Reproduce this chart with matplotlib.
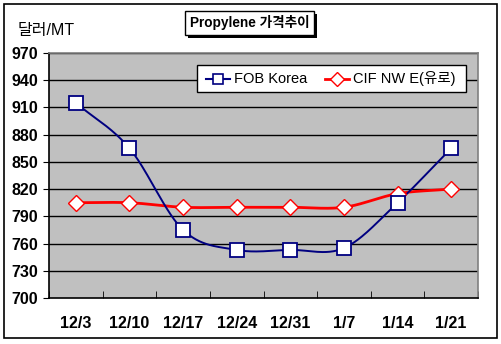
import numpy as np
import matplotlib
matplotlib.use("Agg")
import matplotlib.pyplot as plt
from matplotlib.patches import Rectangle

plt.rcParams['font.family'] = ['Liberation Sans', 'Noto Sans CJK KR', 'DejaVu Sans']

categories = ["12/3", "12/10", "12/17", "12/24", "12/31", "1/7", "1/14", "1/21"]
fob_korea = [915, 865, 775, 753, 753, 755, 805, 865]
cif_nwe = [805, 805, 800, 800, 800, 800, 815, 820]
series_names = ["FOB Korea", "CIF NW E(유로)"]
y_ticks = [700, 730, 760, 790, 820, 850, 880, 910, 940, 970]
title = "Propylene 가격추이"
y_unit = "달러/MT"


def smooth(xs, ys, n=30):
    """Catmull-Rom curve through the points, like a smoothed line chart."""
    xs = np.asarray(xs, float)
    ys = np.asarray(ys, float)
    px = np.concatenate([[2 * xs[0] - xs[1]], xs, [2 * xs[-1] - xs[-2]]])
    py = np.concatenate([[2 * ys[0] - ys[1]], ys, [2 * ys[-1] - ys[-2]]])
    ox, oy = [], []
    t = np.linspace(0, 1, n, endpoint=False)
    for i in range(1, len(px) - 2):
        for p, out in ((px, ox), (py, oy)):
            p0, p1, p2, p3 = p[i - 1], p[i], p[i + 1], p[i + 2]
            m1 = (p2 - p0) / 2
            m2 = (p3 - p1) / 2
            h00 = 2 * t**3 - 3 * t**2 + 1
            h10 = t**3 - 2 * t**2 + t
            h01 = -2 * t**3 + 3 * t**2
            h11 = t**3 - t**2
            out.extend(h00 * p1 + h10 * m1 + h01 * p2 + h11 * m2)
    ox.append(xs[-1])
    oy.append(ys[-1])
    return np.array(ox), np.array(oy)


W, H = 501, 344
fig = plt.figure(figsize=(W / 100, H / 100), dpi=100)
fig.patch.set_facecolor("white")

# outer chart border
fig.add_artist(Rectangle((4 / W, 1 - 338 / H), 493 / W, 334 / H,
                         transform=fig.transFigure, fill=False,
                         edgecolor="black", linewidth=1.2))

ax = fig.add_axes([49 / W, 1 - 298 / H, (478 - 49) / W, (298 - 53) / H])
ax.set_facecolor("#C0C0C0")

x = np.arange(len(categories))
ax.set_xlim(-0.5, len(categories) - 0.5)
ax.set_ylim(700, 970)

for yv in y_ticks[1:]:
    ax.axhline(yv, color="black", linewidth=1.0, zorder=1)

fx, fy = smooth(x, fob_korea)
cx, cy = smooth(x, cif_nwe)
ax.plot(cx, cy, color="#FF0000", linewidth=2.0, zorder=3)
ax.plot(fx, fy, color="#000080", linewidth=1.4, zorder=4)
ax.plot(x, cif_nwe, linestyle="none", marker="D", markersize=8,
        markerfacecolor="white", markeredgecolor="#FF0000",
        markeredgewidth=1.0, zorder=5)
ax.plot(x, fob_korea, linestyle="none", marker="s", markersize=10,
        markerfacecolor="white", markeredgecolor="#000080",
        markeredgewidth=1.3, zorder=6)

ax.set_yticks(y_ticks)
ax.set_yticklabels([str(v) for v in y_ticks], fontsize=11.5, fontweight="bold")
ax.set_xticks(x)
ax.set_xticklabels(categories, fontsize=11.5, fontweight="bold")
ax.tick_params(axis="x", length=0, pad=13)
ax.set_xticks(np.arange(-0.5, len(categories), 1.0), minor=True)
ax.tick_params(axis="x", which="minor", length=5, direction="in", color="black")
ax.tick_params(axis="y", length=4, direction="out", pad=4, color="black")

for side in ("left", "bottom"):
    ax.spines[side].set_color("black")
    ax.spines[side].set_linewidth(1.2)
for side in ("top", "right"):
    ax.spines[side].set_color("#808080")
    ax.spines[side].set_linewidth(1.2)

# legend box
lx0, lx1, ly0, ly1 = 197, 466, 65, 92
fig.add_artist(Rectangle((lx0 / W, 1 - ly1 / H), (lx1 - lx0) / W, (ly1 - ly0) / H,
                         transform=fig.transFigure, facecolor="white",
                         edgecolor="black", linewidth=1.0, zorder=10))
ly = 1 - 79 / H
fig.add_artist(plt.Line2D([206 / W, 230 / W], [ly, ly], color="#000080",
                          linewidth=1.5, transform=fig.transFigure, zorder=11))
fig.add_artist(plt.Line2D([218 / W], [ly], linestyle="none", marker="s",
                          markersize=7.5, markerfacecolor="white",
                          markeredgecolor="#000080", markeredgewidth=1.2,
                          transform=fig.transFigure, zorder=12))
fig.text(234 / W, ly, series_names[0], fontsize=10.5, va="center", ha="left", zorder=12)
fig.add_artist(plt.Line2D([325 / W, 349 / W], [ly, ly], color="#FF0000",
                          linewidth=2.0, transform=fig.transFigure, zorder=11))
fig.add_artist(plt.Line2D([337 / W], [ly], linestyle="none", marker="D",
                          markersize=7, markerfacecolor="white",
                          markeredgecolor="#FF0000", markeredgewidth=1.0,
                          transform=fig.transFigure, zorder=12))
fig.text(353 / W, ly, series_names[1], fontsize=10.5, va="center", ha="left", zorder=12)

# title box with drop shadow
tx0, tx1, ty0, ty1 = 185, 314, 11, 35
fig.add_artist(Rectangle(((tx0 + 3) / W, 1 - (ty1 + 3) / H), (tx1 - tx0) / W, (ty1 - ty0) / H,
                         transform=fig.transFigure, facecolor="black",
                         edgecolor="black", linewidth=0, zorder=10))
fig.add_artist(Rectangle((tx0 / W, 1 - ty1 / H), (tx1 - tx0) / W, (ty1 - ty0) / H,
                         transform=fig.transFigure, facecolor="white",
                         edgecolor="black", linewidth=1.0, zorder=11))
fig.text((tx0 + tx1) / 2 / W, 1 - (ty0 + ty1) / 2 / H, title, fontsize=9.8,
         fontweight="bold", ha="center", va="center", zorder=12)

fig.text(18 / W, 1 - 30 / H, y_unit, fontsize=11.5, ha="left", va="center")

fig.savefig("out.png", dpi=100)
